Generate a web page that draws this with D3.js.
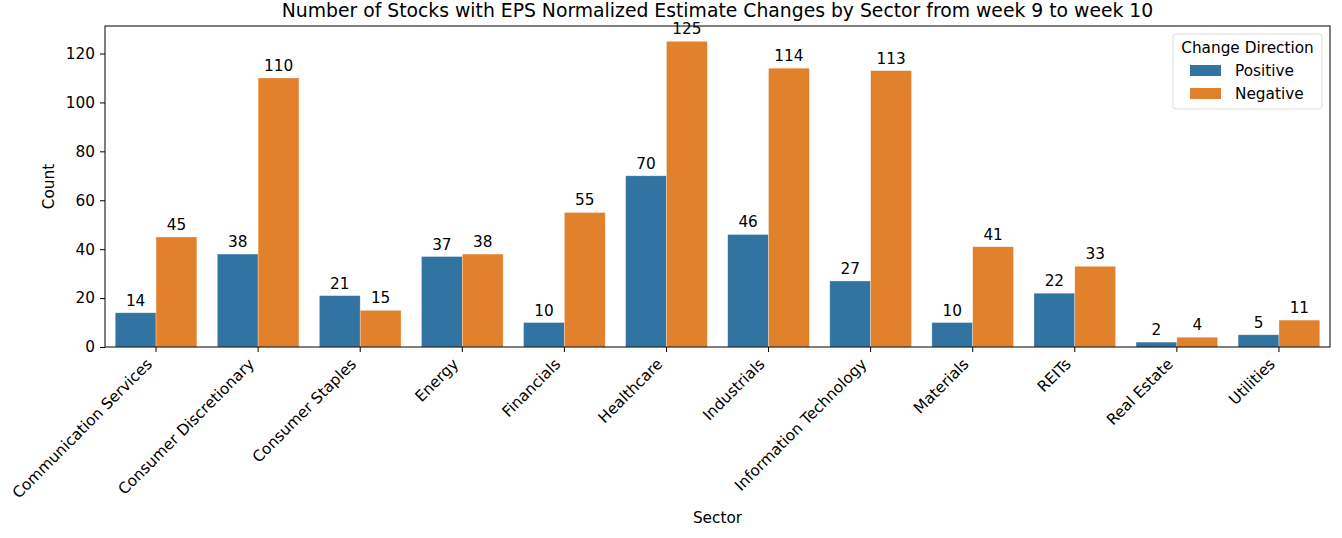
<!DOCTYPE html>
<html>
<head>
<meta charset="utf-8">
<script src="https://cdn.jsdelivr.net/npm/d3@7"></script>
<style>
  body { margin: 0; background: #fff; }
  svg { font-family: "DejaVu Sans", sans-serif; }
</style>
</head>
<body>
<svg id="chart" width="1342" height="538"></svg>
<script>
// sectors and counts
const sectors = ["Communication Services", "Consumer Discretionary", "Consumer Staples", "Energy",
  "Financials", "Healthcare", "Industrials", "Information Technology", "Materials", "REITs",
  "Real Estate", "Utilities"];
const positive = [14, 38, 21, 37, 10, 70, 46, 27, 10, 22, 2, 5];
const negative = [45, 110, 15, 38, 55, 125, 114, 113, 41, 33, 4, 11];
const directions = ["Positive", "Negative"];
const colors = ["#3274a1", "#e1812c"];
const yTicks = [0, 20, 40, 60, 80, 100, 120];

const FS = 15.3;   // 10pt text
const margin = { top: 26, right: 12, bottom: 191, left: 105 };
const W = 1342, H = 538;
const iw = W - margin.left - margin.right, ih = H - margin.top - margin.bottom;

const svg = d3.select('#chart');
const g = svg.append('g').attr('transform', `translate(${margin.left},${margin.top})`);

const x = d3.scaleBand().domain(sectors).range([0, iw]).paddingInner(0.2).paddingOuter(0.1);
const xs = d3.scaleBand().domain(directions).range([0, x.bandwidth()]);
const ymax = d3.max(negative.concat(positive)) * 1.05;
const y = d3.scaleLinear().domain([0, ymax]).range([ih, 0]);

const series = [positive, negative];
series.forEach((vals, si) => {
  const grp = g.append('g');
  grp.selectAll('rect').data(vals).join('rect')
    .attr('x', (d, i) => x(sectors[i]) + xs(directions[si]))
    .attr('y', d => y(d))
    .attr('width', xs.bandwidth())
    .attr('height', d => ih - y(d))
    .attr('fill', colors[si])
    .attr('stroke', '#fff').attr('stroke-width', 0.6).attr('stroke-opacity', 0.5);
  grp.selectAll('text').data(vals).join('text')
    .attr('x', (d, i) => x(sectors[i]) + xs(directions[si]) + xs.bandwidth() / 2)
    .attr('y', d => y(d) - 7)
    .attr('text-anchor', 'middle')
    .attr('font-size', FS)
    .text(d => d);
});

// axes
const yAxis = g.append('g').call(d3.axisLeft(y).tickValues(yTicks).tickSize(5).tickPadding(5));
const xAxis = g.append('g').attr('transform', `translate(0,${ih})`)
  .call(d3.axisBottom(x).tickSize(5).tickPadding(5));
[xAxis, yAxis].forEach(a => {
  a.attr('font-size', FS).attr('font-family', null);
  a.select('.domain').remove();
  a.selectAll('.tick line').attr('stroke', '#000').attr('stroke-width', 1);
  a.selectAll('.tick text').attr('fill', '#000');
});
// rotate round the tick end so the label's top-right corner sits under the tick
xAxis.selectAll('.tick text')
  .attr('x', 0).attr('y', 0).attr('dy', 0)
  .attr('text-anchor', 'end')
  .attr('transform', 'translate(-3,18) rotate(-45)');

g.append('rect').attr('width', iw).attr('height', ih)
  .attr('fill', 'none').attr('stroke', '#000').attr('stroke-width', 1);

// titles
svg.append('text').attr('x', margin.left + iw / 2).attr('y', 17)
  .attr('text-anchor', 'middle').attr('font-size', 18.8)
  .text('Number of Stocks with EPS Normalized Estimate Changes by Sector from week 9 to week 10');
svg.append('text').attr('x', margin.left + iw / 2).attr('y', 523)
  .attr('text-anchor', 'middle').attr('font-size', FS).text('Sector');
svg.append('text').attr('transform', `translate(54,${margin.top + ih / 2}) rotate(-90)`)
  .attr('text-anchor', 'middle').attr('font-size', FS).text('Count');

// legend
const lg = svg.append('g').attr('transform', 'translate(1173,34)');
lg.append('rect').attr('width', 149).attr('height', 75).attr('rx', 3)
  .attr('fill', '#fff').attr('fill-opacity', 0.8).attr('stroke', '#ddd');
lg.append('text').attr('x', 74.5).attr('y', 19).attr('text-anchor', 'middle')
  .attr('font-size', FS).text('Change Direction');
directions.forEach((d, i) => {
  lg.append('rect').attr('x', 17).attr('y', 31 + i * 23).attr('width', 31).attr('height', 11)
    .attr('fill', colors[i]);
  lg.append('text').attr('x', 62).attr('y', 42 + i * 22.5).attr('font-size', FS).text(d);
});
</script>
</body>
</html>
